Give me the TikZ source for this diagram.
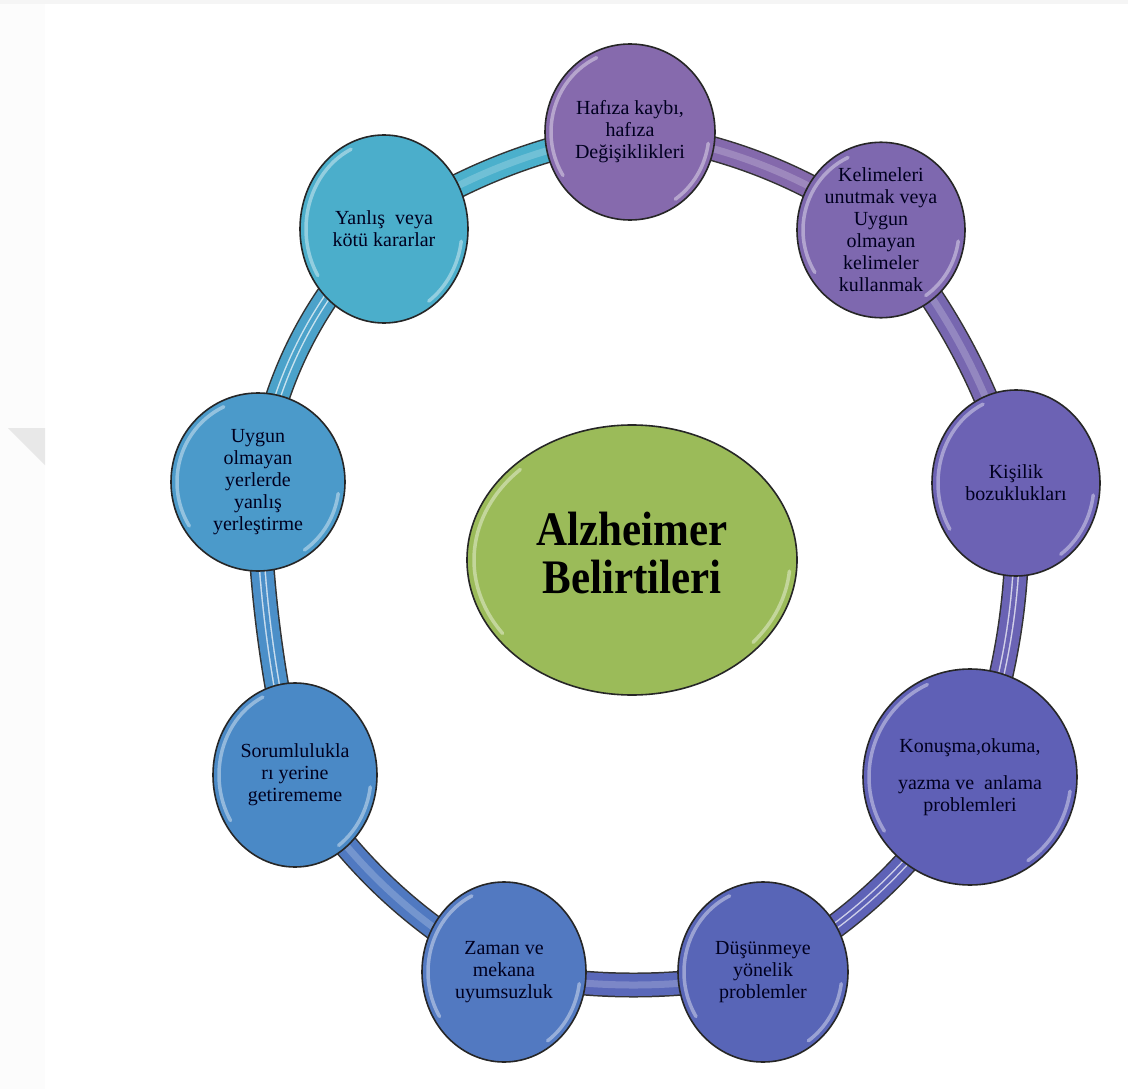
\documentclass[tikz,border=0pt]{standalone}
\usepackage{fontspec}
\usepackage{graphicx}
\setmainfont{Liberation Serif}
\usetikzlibrary{shapes.geometric,backgrounds}

% fills of the symptom bubbles, purple at the top turning to teal on the left
\definecolor{cHaf}{HTML}{866AAD}
\definecolor{cKel}{HTML}{7E68AF}
\definecolor{cKis}{HTML}{6C62B4}
\definecolor{cKon}{HTML}{5F60B6}
\definecolor{cDus}{HTML}{5865B7}
\definecolor{cZam}{HTML}{5279C1}
\definecolor{cSor}{HTML}{4A89C6}
\definecolor{cUyg}{HTML}{4B9ACA}
\definecolor{cYan}{HTML}{4BAECB}
\definecolor{cMid}{HTML}{9BBB59}
% ring segments between the bubbles
\definecolor{rHK}{HTML}{8469AC}
\definecolor{rKK}{HTML}{7767B0}
\definecolor{rKO}{HTML}{6A63B4}
\definecolor{rOD}{HTML}{5E62B7}
\definecolor{rDZ}{HTML}{5A68B9}
\definecolor{rZS}{HTML}{5079C1}
\definecolor{rSU}{HTML}{4B8FC8}
\definecolor{rUY}{HTML}{4BA2CA}
\definecolor{rYH}{HTML}{4BB0CC}

\tikzset{
  bubble/.style={ellipse, draw=black!85, line width=1.6pt, inner sep=0pt,
    align=center, text=black!88!blue, font=\fontsize{20}{22}\selectfont},
  centre/.style={ellipse, draw=black!85, line width=1.6pt, inner sep=0pt,
    fill=cMid, minimum width=330pt, minimum height=270pt,
    font=\fontsize{43}{43}\selectfont\bfseries},
  gloss/.style={white, opacity=.4, line width=3.5pt, line cap=round},
  tube/.style={draw=#1, line width=22pt,
    preaction={draw=black!80, line width=25pt},
    postaction={draw=white!30!#1, line width=7pt, opacity=.7}},
  striped/.style={postaction={draw=white!70!#1, line width=1.4pt,
    double=#1, double distance=4pt}},
}

% a symptom bubble: name, centre x, centre y (downwards), x radius, y radius, fill, text
\newcommand\bubblenode[7]{%
  \node[bubble, fill=#6, minimum width=2*#4pt, minimum height=2*#5pt] (#1) at (#2,-#3) {#7};
  \pgfmathsetmacro\glrx{#4-6}\pgfmathsetmacro\glry{#5-6}%
  \draw[gloss] (#1.center) ++(115:\glrx pt and \glry pt)
    arc[start angle=115, end angle=212, x radius=\glrx pt, y radius=\glry pt];
  \draw[gloss] (#1.center) ++(-8:\glrx pt and \glry pt)
    arc[start angle=-8, end angle=-55, x radius=\glrx pt, y radius=\glry pt];
}

\begin{document}
\begin{tikzpicture}[x=1pt,y=1pt]
\useasboundingbox (0,0) rectangle (1128,-1089);
\begin{pgfonlayer}{background}
  \fill[white] (0,0) rectangle (1128,-1089);
  % page edge and the small grey corner mark on the left
  \fill[black!4] (0,0) rectangle (1128,-4);
  \fill[black!1] (0,-4) rectangle (45,-1089);
  \fill[black!9] (8,-428) -- (45,-428) -- (45,-465) -- cycle;
\end{pgfonlayer}

% centre
\node[centre] (mid) at (632,-560)
  {\raisebox{-6pt}{\scalebox{1}[1.12]{\begin{tabular}{@{}c@{}}Alzheimer\\Belirtileri\end{tabular}}}};
\draw[gloss] (mid.center) ++(135:158pt and 128pt)
  arc[start angle=135, end angle=215, x radius=158pt, y radius=128pt];
\draw[gloss] (mid.center) ++(-5:158pt and 128pt)
  arc[start angle=-5, end angle=-40, x radius=158pt, y radius=128pt];

% symptoms, clockwise from the top
\bubblenode{haf}{630}{132}{85}{88}{cHaf}{Hafıza kaybı,\\hafıza\\Değişiklikleri}
\bubblenode{kel}{881}{230}{84}{86}{cKel}{\fontsize{20}{22.6}\selectfont Kelimeleri\\unutmak veya\\Uygun\\olmayan\\kelimeler\\kullanmak}
\bubblenode{kis}{1016}{483}{84}{93}{cKis}{Kişilik\\bozuklukları}
\bubblenode{kon}{970}{777}{107}{108}{cKon}{\fontsize{20}{20}\selectfont Konuşma,okuma,\\[15pt]yazma ve\ \ anlama\\problemleri}
\bubblenode{dus}{763}{972}{85}{90}{cDus}{Düşünmeye\\yönelik\\problemler}
\bubblenode{zam}{504}{972}{82}{90}{cZam}{Zaman ve\\mekana\\uyumsuzluk}
\bubblenode{sor}{295}{775}{82}{92}{cSor}{Sorumlulukla\\rı yerine\\getirememe}
\bubblenode{uyg}{258}{482}{87}{89}{cUyg}{Uygun\\olmayan\\yerlerde\\yanlış\\yerleştirme}
\bubblenode{yan}{384}{229}{84}{94}{cYan}{Yanlış\ \ veya\\kötü kararlar}

% the ring that links the symptoms
\begin{scope}[on background layer, looseness=.9]
  \draw[tube=rHK] (haf.center) to[bend left=14] (kel.center);
  \draw[tube=rKK] (kel.center) to[bend left=12] (kis.center);
  \draw[tube=rKO, striped=rKO] (kis.center) to[bend left=12] (kon.center);
  \draw[tube=rOD, striped=rOD] (kon.center) to[bend left=15] (dus.center);
  \draw[tube=rDZ] (dus.center) to[bend left=11] (zam.center);
  \draw[tube=rZS] (zam.center) to[bend left=15] (sor.center);
  \draw[tube=rSU, striped=rSU] (sor.center) to[bend left=6] (uyg.center);
  \draw[tube=rUY, striped=rUY] (uyg.center) to[bend left=19] (yan.center);
  \draw[tube=rYH] (yan.center) to[bend left=12.5] (haf.center);
\end{scope}
\end{tikzpicture}
\end{document}
